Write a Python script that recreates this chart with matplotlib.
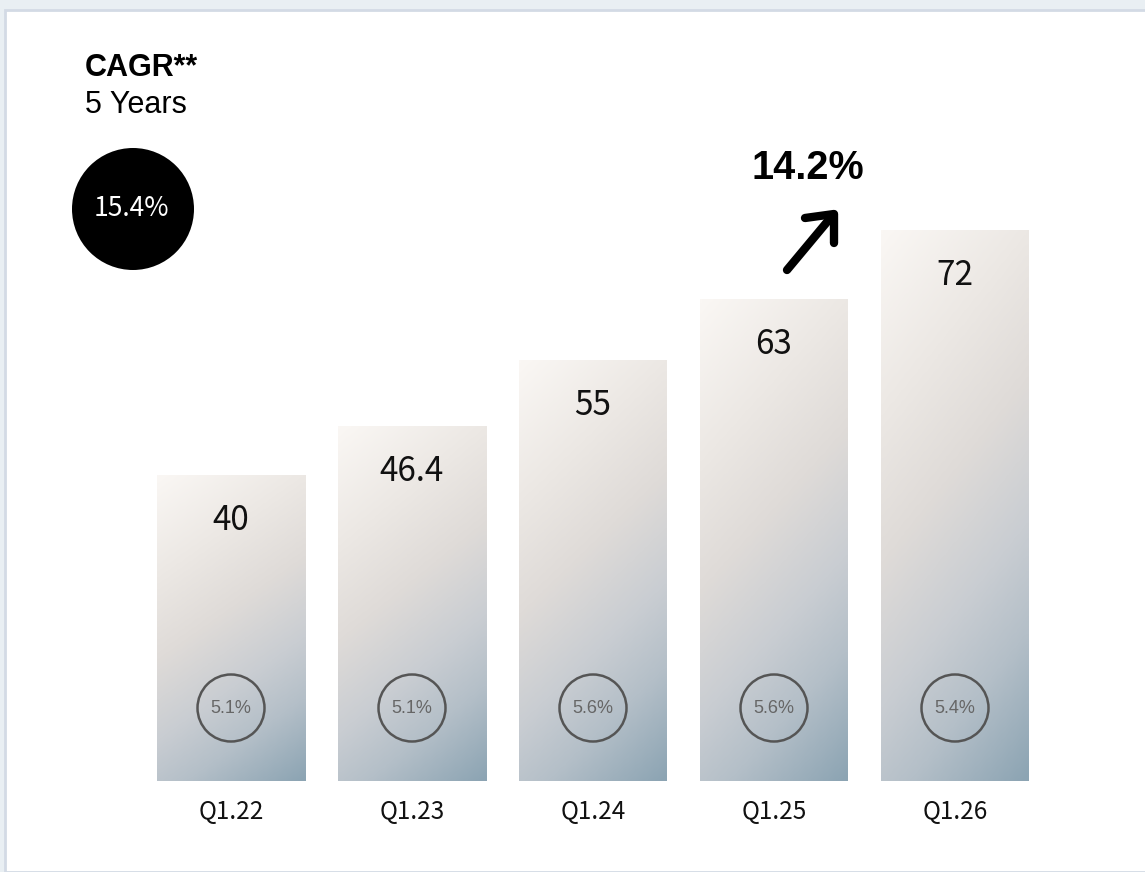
"""Quarterly bars with CAGR callouts."""

import matplotlib
matplotlib.use("Agg")
import matplotlib.pyplot as plt
import numpy as np
from matplotlib.colors import LinearSegmentedColormap
from matplotlib.patches import Ellipse, Rectangle

quarters = ["Q1.22", "Q1.23", "Q1.24", "Q1.25", "Q1.26"]
values = [40, 46.4, 55, 63, 72]
value_labels = ["40", "46.4", "55", "63", "72"]
margins = ["5.1%", "5.1%", "5.6%", "5.6%", "5.4%"]
cagr_5y = "15.4%"
yoy_growth = "14.2%"

W, H, DPI = 1145, 872, 100
SANS = ["Noto Sans CJK KR", "DejaVu Sans"]
ARIAL = ["Liberation Sans", "DejaVu Sans"]

fig = plt.figure(figsize=(W / DPI, H / DPI), dpi=DPI)
fig.patch.set_facecolor("#e9eff3")

# white panel with a thin border (behind the axes)
fig.add_artist(Rectangle((5 / W, 0), 1.2, (H - 10) / H, transform=fig.transFigure,
                         facecolor="white", edgecolor="#d3dae5", linewidth=2,
                         zorder=-10))

ax = fig.add_axes([0, 0, 1, 1])
ax.set_facecolor("none")
px_x, px_y = 181.0, 7.65          # pixels per data unit
x0_px, base_px = 231.0, 781.0
ax.axis("off")

cmap = LinearSegmentedColormap.from_list("bar", [
    (0.0, "#faf7f4"), (0.25, "#ece8e4"), (0.45, "#dfdbd8"),
    (0.65, "#c9cdd2"), (0.8, "#b4bfc8"), (1.0, "#8ca4b3")])

bw = 148 / px_x
xs = np.arange(len(values))
bars = ax.bar(xs, values, width=bw, color="none", edgecolor="none")
for b, v in zip(bars, values):
    rows, cols = 200, 40
    u = np.linspace(0, 1, cols)[None, :]
    t = np.linspace(0, 1, rows)[:, None]
    grad = np.clip(0.25 * u + 0.75 * t, 0, 1)
    im = ax.imshow(grad, cmap=cmap, vmin=0, vmax=1, aspect="auto", origin="upper",
                   extent=(b.get_x(), b.get_x() + bw, 0, v), interpolation="bilinear",
                   zorder=1)
    im.set_clip_path(b)
ax.set_xlim(-x0_px / px_x, (W - x0_px) / px_x)
ax.set_ylim(-(H - base_px) / px_y, base_px / px_y)

for x, v, lab in zip(xs, values, value_labels):
    ax.text(x, v - 45 / px_y, lab, ha="center", va="center", fontsize=24,
            family=SANS, color="#111111", zorder=3)

circ_y = (base_px - 708) / px_y
ax.scatter(xs, [circ_y] * len(xs), s=(67 * 72 / DPI) ** 2, facecolors="none",
           edgecolors="#555555", linewidths=1.8, zorder=3)
for x, m in zip(xs, margins):
    ax.text(x, circ_y, m, ha="center", va="center", fontsize=13,
            family=ARIAL, color="#666666", zorder=4)

for x, q in zip(xs, quarters):
    ax.text(x, -(812 - base_px) / px_y, q, ha="center", va="center",
            fontsize=17.5, family=SANS, color="#111111")

# CAGR block, top left
fig.text(85 / W, 1 - 68 / H, "CAGR**", ha="left", va="center", fontsize=22,
         fontweight="bold", family=ARIAL)
fig.text(85 / W, 1 - 105 / H, "5 Years", ha="left", va="center", fontsize=22,
         family=ARIAL)
fig.add_artist(Ellipse((133 / W, 1 - 209 / H), 122 / W, 122 / H,
                       transform=fig.transFigure, facecolor="black", edgecolor="none"))
fig.text(131 / W, 1 - 209 / H, cagr_5y, ha="center", va="center", fontsize=19,
         color="white", family=SANS)

# growth arrow
fig.text(808 / W, 1 - 168 / H, yoy_growth, ha="center", va="center", fontsize=28.5,
         fontweight="bold", family=ARIAL)
ax_f = dict(transform=fig.transFigure, color="black", linewidth=6,
            solid_capstyle="round", solid_joinstyle="round")
fig.add_artist(plt.Line2D([787 / W, 832 / W], [1 - 270 / H, 1 - 216 / H], **ax_f))
fig.add_artist(plt.Line2D([805 / W, 834 / W, 834 / W],
                          [1 - 218 / H, 1 - 214 / H, 1 - 243 / H], **ax_f))

fig.savefig("out.png", dpi=DPI, facecolor=fig.get_facecolor())
